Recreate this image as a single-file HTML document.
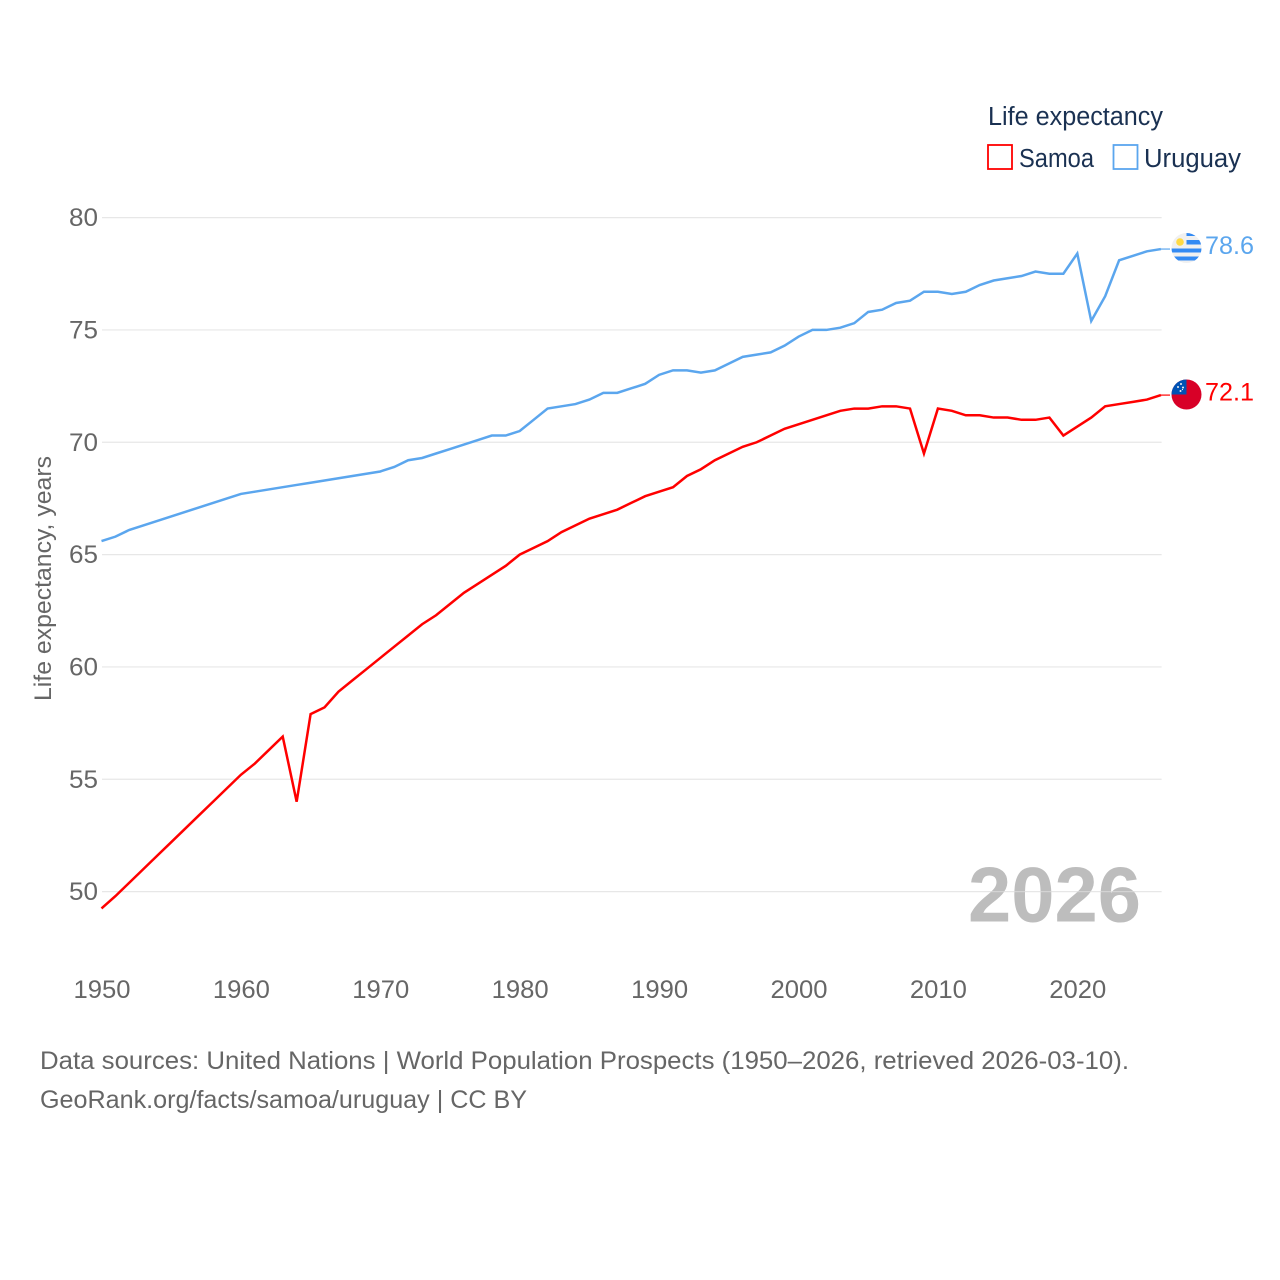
<!DOCTYPE html>
<html lang="en">
<head>
<meta charset="utf-8">
<title>Life expectancy: Samoa and Uruguay</title>
<style>
html,body{margin:0;padding:0;background:#fff;width:1280px;height:1280px;overflow:hidden}
svg{display:block;font-family:"Liberation Sans",sans-serif}
</style>
</head>
<body>
<svg id="chart" xmlns="http://www.w3.org/2000/svg" width="1280" height="1280" viewBox="0 0 1280 1280">
  <rect width="1280" height="1280" fill="#ffffff"/>
  <text x="968" y="921.5" font-size="78" font-weight="700" fill="#bdbdbd" textLength="173" lengthAdjust="spacingAndGlyphs">2026</text>
  <g id="grid"></g>
  <g id="yticks"></g>
  <g id="xticks"></g>
  <text transform="translate(51,578.5) rotate(-90)" text-anchor="middle" font-size="24" fill="#666666" textLength="245" lengthAdjust="spacingAndGlyphs">Life expectancy, years</text>
  <g id="series"></g>

  <defs>
    <clipPath id="flag-uy-clip"><circle cx="1186.5" cy="248" r="15"/></clipPath>
    <clipPath id="flag-ws-clip"><circle cx="1186.5" cy="394.5" r="15"/></clipPath>
  </defs>
  <g clip-path="url(#flag-uy-clip)">
    <rect x="1171" y="233" width="31" height="31" fill="#f0f0f0"/>
    <rect x="1186.5" y="232.5" width="16" height="3.5" fill="#338af3"/>
    <rect x="1186.5" y="240" width="16" height="4.5" fill="#338af3"/>
    <rect x="1171" y="248.5" width="31" height="4" fill="#338af3"/>
    <rect x="1171" y="256.5" width="31" height="4" fill="#338af3"/>
    <circle cx="1180" cy="242" r="3.8" fill="#ffda44"/>
  </g>
  <g clip-path="url(#flag-ws-clip)">
    <rect x="1171" y="379" width="31" height="31" fill="#d80027"/>
    <rect x="1171" y="379" width="15.5" height="15.5" fill="#0052b4"/>
    <circle cx="1181" cy="384" r="1" fill="#f0f0f0"/>
    <circle cx="1178" cy="387" r="1" fill="#f0f0f0"/>
    <circle cx="1183" cy="387.5" r="1" fill="#f0f0f0"/>
    <circle cx="1180.5" cy="391" r="1" fill="#f0f0f0"/>
    <circle cx="1182.5" cy="389.5" r="0.6" fill="#f0f0f0"/>
  </g>

  <text x="1205" y="254" font-size="25" fill="#5ba6ee" textLength="49" lengthAdjust="spacingAndGlyphs">78.6</text>
  <text x="1205" y="400.5" font-size="25" fill="#ff0000" textLength="49" lengthAdjust="spacingAndGlyphs">72.1</text>

  <text x="988" y="125" font-size="25.5" fill="#1a3152" textLength="175" lengthAdjust="spacingAndGlyphs">Life expectancy</text>
  <rect x="988" y="145" width="24" height="24" fill="#ffffff" stroke="#ff0000" stroke-width="1.8"/>
  <text x="1019" y="167" font-size="25.5" fill="#1a3152" textLength="75" lengthAdjust="spacingAndGlyphs">Samoa</text>
  <rect x="1113.5" y="145" width="24" height="24" fill="#ffffff" stroke="#5ba6ee" stroke-width="1.8"/>
  <text x="1144" y="167" font-size="25.5" fill="#1a3152" textLength="97" lengthAdjust="spacingAndGlyphs">Uruguay</text>

  <text x="40" y="1069" font-size="25" fill="#666666" textLength="1089" lengthAdjust="spacingAndGlyphs">Data sources: United Nations | World Population Prospects (1950–2026, retrieved 2026-03-10).</text>
  <text x="40" y="1108" font-size="25" fill="#666666" textLength="487" lengthAdjust="spacingAndGlyphs">GeoRank.org/facts/samoa/uruguay | CC BY</text>
</svg>
<script>
const years = [1950,1951,1952,1953,1954,1955,1956,1957,1958,1959,1960,1961,1962,1963,1964,1965,1966,1967,1968,1969,1970,1971,1972,1973,1974,1975,1976,1977,1978,1979,1980,1981,1982,1983,1984,1985,1986,1987,1988,1989,1990,1991,1992,1993,1994,1995,1996,1997,1998,1999,2000,2001,2002,2003,2004,2005,2006,2007,2008,2009,2010,2011,2012,2013,2014,2015,2016,2017,2018,2019,2020,2021,2022,2023,2024,2025,2026];
const samoaValues = [49.25,49.8,50.4,51.0,51.6,52.2,52.8,53.4,54.0,54.6,55.2,55.7,56.3,56.9,54.0,57.9,58.2,58.9,59.4,59.9,60.4,60.9,61.4,61.9,62.3,62.8,63.3,63.7,64.1,64.5,65.0,65.3,65.6,66.0,66.3,66.6,66.8,67.0,67.3,67.6,67.8,68.0,68.5,68.8,69.2,69.5,69.8,70.0,70.3,70.6,70.8,71.0,71.2,71.4,71.5,71.5,71.6,71.6,71.5,69.5,71.5,71.4,71.2,71.2,71.1,71.1,71.0,71.0,71.1,70.3,70.7,71.1,71.6,71.7,71.8,71.9,72.1];
const uruguayValues = [65.6,65.8,66.1,66.3,66.5,66.7,66.9,67.1,67.3,67.5,67.7,67.8,67.9,68.0,68.1,68.2,68.3,68.4,68.5,68.6,68.7,68.9,69.2,69.3,69.5,69.7,69.9,70.1,70.3,70.3,70.5,71.0,71.5,71.6,71.7,71.9,72.2,72.2,72.4,72.6,73.0,73.2,73.2,73.1,73.2,73.5,73.8,73.9,74.0,74.3,74.7,75.0,75.0,75.1,75.3,75.8,75.9,76.2,76.3,76.7,76.7,76.6,76.7,77.0,77.2,77.3,77.4,77.6,77.5,77.5,78.4,75.4,76.5,78.1,78.3,78.5,78.6];
const yTickValues = [50,55,60,65,70,75,80];
const xTickValues = [1950,1960,1970,1980,1990,2000,2010,2020];

const NS = 'http://www.w3.org/2000/svg';
function xScale(year){ return 101.5 + (year - 1950) * 13.94; }
function yScale(v){ return 891.6 - (v - 50) * (891.6 - 217.6) / 30; }

const gridGroup = document.getElementById('grid');
const yGroup = document.getElementById('yticks');
const xGroup = document.getElementById('xticks');
const seriesGroup = document.getElementById('series');

yTickValues.forEach(function(v){
  const line = document.createElementNS(NS, 'line');
  
  
  line.setAttribute('x1', 102);
  line.setAttribute('x2', 1161.6);
  line.setAttribute('y1', yScale(v));
  line.setAttribute('y2', yScale(v));
  line.setAttribute('stroke', 'rgba(221,221,221,0.7)');
  line.setAttribute('stroke-width', '1.2');
  gridGroup.appendChild(line);

  const label = document.createElementNS(NS, 'text');
  
  
  label.setAttribute('x', 98);
  label.setAttribute('y', yScale(v) + 8.5);
  label.setAttribute('text-anchor', 'end');
  label.setAttribute('font-size', '25');
  label.setAttribute('fill', '#666666');
  label.setAttribute('textLength', '29');
  label.setAttribute('lengthAdjust', 'spacingAndGlyphs');
  label.textContent = String(v);
  yGroup.appendChild(label);
});

xTickValues.forEach(function(year){
  const label = document.createElementNS(NS, 'text');
  
  
  label.setAttribute('x', xScale(year) + 0.5);
  label.setAttribute('y', 998);
  label.setAttribute('text-anchor', 'middle');
  label.setAttribute('font-size', '25');
  label.setAttribute('fill', '#666666');
  label.setAttribute('textLength', '57');
  label.setAttribute('lengthAdjust', 'spacingAndGlyphs');
  label.textContent = String(year);
  xGroup.appendChild(label);
});

function pathFor(values){
  return values.map(function(v, i){
    return (i ? 'L' : 'M') + xScale(years[i]).toFixed(2) + ' ' + yScale(v).toFixed(2);
  }).join(' ');
}

const uruguayLine = document.createElementNS(NS, 'path');


uruguayLine.setAttribute('d', pathFor(uruguayValues));
uruguayLine.setAttribute('fill', 'none');
uruguayLine.setAttribute('stroke', '#5ba6ee');
uruguayLine.setAttribute('stroke-width', '2.5');
uruguayLine.setAttribute('stroke-linejoin', 'miter');
seriesGroup.appendChild(uruguayLine);

const samoaLine = document.createElementNS(NS, 'path');


samoaLine.setAttribute('d', pathFor(samoaValues));
samoaLine.setAttribute('fill', 'none');
samoaLine.setAttribute('stroke', '#ff0000');
samoaLine.setAttribute('stroke-width', '2.5');
samoaLine.setAttribute('stroke-linejoin', 'miter');
seriesGroup.appendChild(samoaLine);

const lastIndex = years.length - 1;

const uruguayConnector = document.createElementNS(NS, 'line');


uruguayConnector.setAttribute('x1', xScale(years[lastIndex]));
uruguayConnector.setAttribute('x2', 1170);
uruguayConnector.setAttribute('y1', yScale(uruguayValues[lastIndex]));
uruguayConnector.setAttribute('y2', yScale(uruguayValues[lastIndex]));
uruguayConnector.setAttribute('stroke', '#5ba6ee');
uruguayConnector.setAttribute('stroke-width', '1.2');
seriesGroup.appendChild(uruguayConnector);

const samoaConnector = document.createElementNS(NS, 'line');


samoaConnector.setAttribute('x1', xScale(years[lastIndex]));
samoaConnector.setAttribute('x2', 1170);
samoaConnector.setAttribute('y1', yScale(samoaValues[lastIndex]));
samoaConnector.setAttribute('y2', yScale(samoaValues[lastIndex]));
samoaConnector.setAttribute('stroke', '#ff0000');
samoaConnector.setAttribute('stroke-width', '1.2');
seriesGroup.appendChild(samoaConnector);
</script>
</body>
</html>
